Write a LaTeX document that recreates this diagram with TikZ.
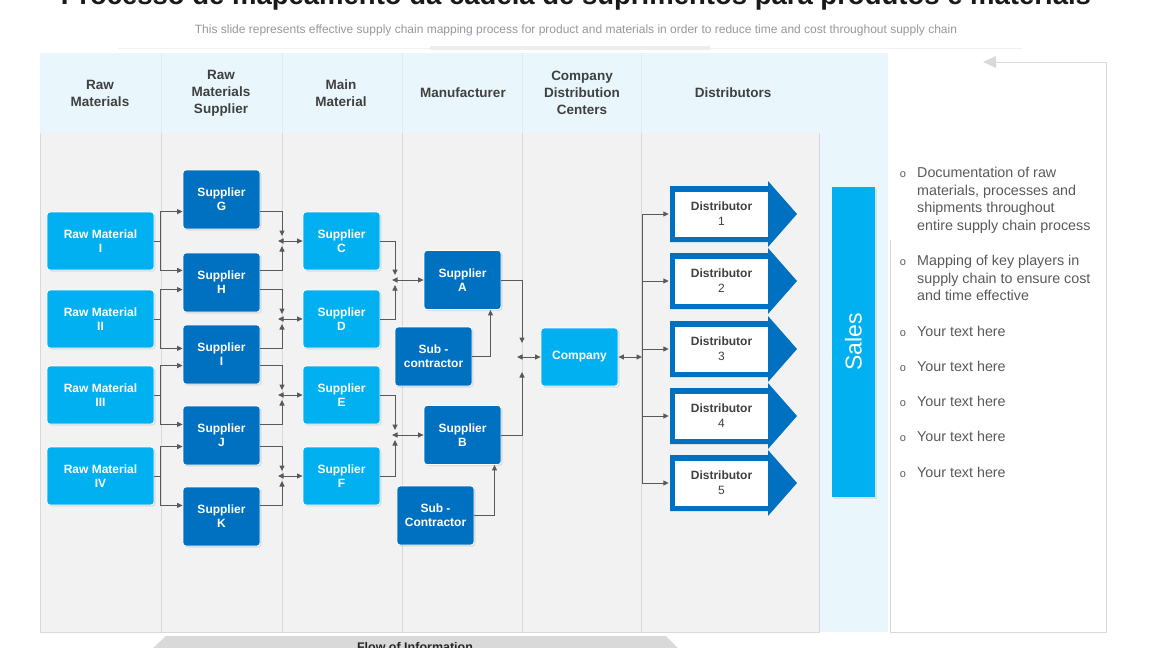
\documentclass[tikz,border=0pt]{standalone}
\usepackage{fontspec}
\setmainfont{Liberation Sans}
\usetikzlibrary{positioning}
\usetikzlibrary{arrows.meta}
\usetikzlibrary{calc}
\usetikzlibrary{shadows}

\definecolor{cyanbox}{RGB}{0,176,240}
\definecolor{bluebox}{RGB}{0,112,192}
\definecolor{headbg}{RGB}{233,247,253}
\definecolor{bodybg}{RGB}{242,242,242}
\definecolor{colline}{RGB}{217,217,217}
\definecolor{arrowgray}{RGB}{89,89,89}
\definecolor{headtext}{RGB}{64,64,64}
\definecolor{subgray}{RGB}{150,150,160}

\tikzset{
  box/.style={rectangle, rounded corners=3pt, draw=white, line width=0.8pt,
    text=white, font=\fontsize{12}{14}\selectfont\bfseries, align=center,
    minimum width=77pt, minimum height=59pt, inner sep=1pt,
    drop shadow={shadow xshift=1.5pt, shadow yshift=-1.5pt, opacity=0.18}},
  rawbox/.style={box, fill=cyanbox, minimum width=107pt, minimum height=58pt},
  supbox/.style={box, fill=bluebox},
  mainbox/.style={box, fill=cyanbox, minimum height=58pt},
  distbox/.style={rectangle, fill=white, text=headtext, align=center,
    font=\fontsize{12}{15}\selectfont, minimum width=93pt, minimum height=45pt, inner sep=0pt},
  header/.style={text=headtext, font=\fontsize{13.5}{17}\selectfont\bfseries, align=center},
  item/.style={text=arrowgray, font=\fontsize{14.3}{17.7}\selectfont, align=left,
    anchor=north west, inner sep=0pt},
  dot/.style={text=arrowgray, font=\fontsize{11}{11}\selectfont, anchor=base, inner sep=0pt},
  conn/.style={arrowgray, line width=1pt},
}

\begin{document}
\begin{tikzpicture}[x=1pt, y=-1pt, >={Triangle[length=5.5pt,width=5pt]}]
    \useasboundingbox (0,0) rectangle (1152,648);

    % title
    \node[anchor=base, font=\fontsize{27.5}{30}\selectfont\bfseries, text=black!90] (title) at (576,4)
        {Processo de mapeamento da cadeia de suprimentos para produtos e materiais};
    \node[text=subgray, font=\fontsize{12}{14}\selectfont] (subtitle) at (576,30)
        {This slide represents effective supply chain mapping process for product and materials in order to reduce time and cost throughout supply chain};
    \draw[gray!12, line width=1pt] (118,48) -- (1022,48);
    \fill[gray!14] (430,46) rectangle (710,50);

    % table
    \fill[headbg] (40,53) rectangle (888,632);
    \fill[bodybg] (40,133) rectangle (819,632);
    \draw[colline] (40,133) -- (40,632) -- (819,632) -- (819,133);
    \foreach \x in {161,282,402,522,641} {
        \draw[colline] (\x,133) -- (\x,632);
        \draw[colline!40!headbg] (\x,53) -- (\x,133);
    }

    \node[header] (h1) at (100,93) {Raw\\Materials};
    \node[header] (h2) at (221,93) {Raw\\Materials\\Supplier};
    \node[header] (h3) at (341,93) {Main\\Material};
    \node[header] (h4) at (463,93) {Manufacturer};
    \node[header] (h5) at (582,93) {Company\\Distribution\\Centers};
    \node[header] (h6) at (733,93) {Distributors};

    % raw materials
    \node[rawbox] (rm1) at (100.5,241) {Raw Material\\I};
    \node[rawbox] (rm2) at (100.5,319) {Raw Material\\II};
    \node[rawbox] (rm3) at (100.5,395) {Raw Material\\III};
    \node[rawbox] (rm4) at (100.5,476) {Raw Material\\IV};

    % raw material suppliers
    \node[supbox] (sg) at (221.5,199.5) {Supplier\\G};
    \node[supbox] (sh) at (221.5,282.5) {Supplier\\H};
    \node[supbox] (si) at (221.5,354.5) {Supplier\\I};
    \node[supbox] (sj) at (221.5,435.5) {Supplier\\J};
    \node[supbox] (sk) at (221.5,516.5) {Supplier\\K};

    % main material
    \node[mainbox] (sc) at (341.5,241) {Supplier\\C};
    \node[mainbox] (sd) at (341.5,319) {Supplier\\D};
    \node[mainbox] (se) at (341.5,395) {Supplier\\E};
    \node[mainbox] (sf) at (341.5,476) {Supplier\\F};

    % manufacturer
    \node[supbox] (sa) at (462.5,280) {Supplier\\A};
    \node[supbox] (sub1) at (433.5,356.5) {Sub -\\contractor};
    \node[supbox] (sb) at (462.5,435) {Supplier\\B};
    \node[supbox] (sub2) at (435.5,515.5) {Sub -\\Contractor};

    % company
    \node[mainbox] (comp) at (579.5,357) {Company};

    % distributors
    \foreach \i/\y in {1/214,2/281,3/349,4/416,5/483} {
        \fill[bluebox] (670,\y-28) -- (768,\y-28) -- (768,\y-33) -- (797,\y)
            -- (768,\y+33) -- (768,\y+28) -- (670,\y+28) -- cycle;
        \node[distbox] (d\i) at (721.5,\y) {\textbf{Distributor}\\\i};
    }

    % sales
    \node[fill=cyanbox, rotate=90, minimum width=310pt, minimum height=43pt, text=white,
        font=\fontsize{23}{26}\selectfont, drop shadow={shadow xshift=1.5pt, shadow yshift=-1.5pt, opacity=0.18}]
        (sales) at (853.5,342) {Sales};

    % junctions
    \coordinate (jc) at (282,241);
    \coordinate (jd) at (282,319);
    \coordinate (je) at (282,395);
    \coordinate (jf) at (282,476);
    \coordinate (ja) at (395,280);
    \coordinate (jb) at (395,435);
    \coordinate (jco) at (522,357);
    \coordinate (jdist) at (642,357);

    % raw materials -> suppliers
    \draw[conn,->] (rm1.east) -- ++(6,0) |- (rm1.north -| sg.west);
    \draw[conn,->] (rm1.east) -- ++(6,0) |- (rm1.south -| sh.west);
    \draw[conn,->] (rm2.east) -- ++(6,0) |- (rm2.north -| sh.west);
    \draw[conn,->] (rm2.east) -- ++(6,0) |- (rm2.south -| si.west);
    \draw[conn,->] (rm3.east) -- ++(6,0) |- (rm3.north -| si.west);
    \draw[conn,->] (rm3.east) -- ++(6,0) |- (rm3.south -| sj.west);
    \draw[conn,->] (rm4.east) -- ++(6,0) |- (rm4.north -| sj.west);
    \draw[conn,->] (rm4.east) -- ++(6,0) |- (rm4.south -| sk.west);

    % suppliers -> main material
    \draw[conn,->] (sc.north -| sg.east) -| ($(jc)+(0,-5)$);
    \draw[conn,->] (sc.south -| sh.east) -| ($(jc)+(0,5)$);
    \draw[conn,<->] ($(jc)+(-4,0)$) -- (sc.west);
    \draw[conn,->] (sd.north -| sh.east) -| ($(jd)+(0,-5)$);
    \draw[conn,->] (sd.south -| si.east) -| ($(jd)+(0,5)$);
    \draw[conn,<->] ($(jd)+(-4,0)$) -- (sd.west);
    \draw[conn,->] (se.north -| si.east) -| ($(je)+(0,-5)$);
    \draw[conn,->] (se.south -| sj.east) -| ($(je)+(0,5)$);
    \draw[conn,<->] ($(je)+(-4,0)$) -- (se.west);
    \draw[conn,->] (sf.north -| sj.east) -| ($(jf)+(0,-5)$);
    \draw[conn,->] (sf.south -| sk.east) -| ($(jf)+(0,5)$);
    \draw[conn,<->] ($(jf)+(-4,0)$) -- (sf.west);

    % main material -> manufacturer
    \draw[conn,->] (sc.east) -| ($(ja)+(0,-5)$);
    \draw[conn,->] (sd.east) -| ($(ja)+(0,5)$);
    \draw[conn,<->] ($(ja)+(-3,0)$) -- (sa.west);
    \draw[conn,->] (se.east) -| ($(jb)+(0,-5)$);
    \draw[conn,->] (sf.east) -| ($(jb)+(0,5)$);
    \draw[conn,<->] ($(jb)+(-3,0)$) -- (sb.west);
    \draw[conn,->] (sub1.east) -| ($(sa.south)+(28,0)$);
    \draw[conn,->] (sub2.east) -| ($(sb.south)+(32,0)$);

    % manufacturer -> company -> distributors
    \draw[conn,->] (sa.east) -| ($(jco)+(0,-14)$);
    \draw[conn,->] (sb.east) -| ($(jco)+(0,15)$);
    \draw[conn,<->] ($(jco)+(-5,0)$) -- (comp.west);
    \draw[conn,<->] (comp.east) -- (jdist);
    \foreach \i in {1,...,5}
        \draw[conn,->] (jdist) |- ($(d\i.west)+(-6,0)$);

    % side panel
    \draw[colline, line width=1pt] (890,240) -- (890,632) -- (1106,632) -- (1106,62) -- (995,62);
    \fill[colline] (983,62) -- (996,56) -- (996,68) -- cycle;

    \node[dot] (o1) at (903,177) {o};
    \node[item] (t1) at (917,166.8) {Documentation of raw\\materials, processes and\\shipments throughout\\entire supply chain process};
    \node[dot] (o2) at (903,265) {o};
    \node[item] (t2) at (917,254.8) {Mapping of key players in\\supply chain to ensure cost\\and time effective};
    \node[dot] (o3) at (903,336) {o};
    \node[item] (t3) at (917,325.8) {Your text here};
    \node[dot] (o4) at (903,371) {o};
    \node[item] (t4) at (917,360.8) {Your text here};
    \node[dot] (o5) at (903,406) {o};
    \node[item] (t5) at (917,395.8) {Your text here};
    \node[dot] (o6) at (903,441) {o};
    \node[item] (t6) at (917,430.8) {Your text here};
    \node[dot] (o7) at (903,477) {o};
    \node[item] (t7) at (917,466.8) {Your text here};

    % flow of information
    \fill[colline] (166,636) -- (666,636) -- (680,650) -- (151,650) -- cycle;
    \node[anchor=base, font=\fontsize{12.5}{14}\selectfont\bfseries, text=black!85] (flow) at (415,651) {Flow of Information};
\end{tikzpicture}
\end{document}
